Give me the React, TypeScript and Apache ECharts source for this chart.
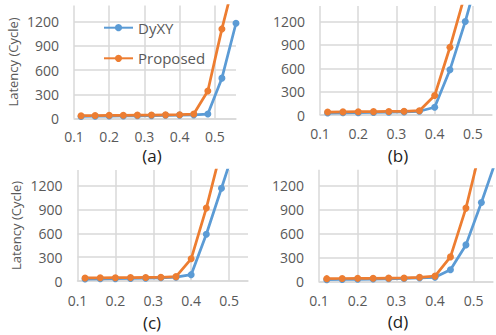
import React, { useEffect, useRef } from "react";
import * as echarts from "echarts";

const xValues = [0.12, 0.16, 0.2, 0.24, 0.28, 0.32, 0.36, 0.4, 0.44, 0.48, 0.52, 0.56];
const seriesNames = ["DyXY", "Proposed"];
const panelLabels = ["(a)", "(b)", "(c)", "(d)"];
const yTicks = [0, 300, 600, 900, 1200];

const dyxyA = [25, 28, 30, 32, 34, 36, 40, 42, 45, 55, 500, 1180];
const propA = [35, 37, 40, 40, 42, 43, 45, 47, 55, 340, 1110, 1800];
const dyxyB = [25, 28, 30, 33, 36, 40, 48, 100, 580, 1200, 1900];
const propB = [38, 40, 42, 43, 45, 47, 55, 250, 870, 1560];
const dyxyC = [25, 28, 30, 33, 36, 40, 48, 80, 590, 1170, 1760];
const propC = [38, 40, 42, 43, 45, 47, 55, 280, 920, 1670];
const dyxyD = [25, 28, 30, 33, 36, 40, 48, 55, 150, 460, 990, 1550];
const propD = [38, 40, 42, 43, 45, 47, 55, 70, 310, 920, 1710];

const xMax = [0.56, 0.55, 0.55, 0.55];

const FONT = "Open Sans";
const GRAY = "#595959";
const GRID = "#d9d9d9";
const BLUE = "#5B9BD5";
const ORANGE = "#ED7D31";

const toPairs = (ys: number[]) => ys.map((y, i) => [xValues[i], y]);

export default function App() {
  const ref = useRef<HTMLDivElement>(null);
  useEffect(() => {
    if (!ref.current) return;
    const chart = echarts.init(ref.current, undefined, { renderer: "svg" });
    const grids = [
      { left: 74, top: 5.5, width: 162, height: 113 },
      { left: 320, top: 6, width: 172, height: 109 },
      { left: 77.5, top: 170, width: 170.5, height: 111 },
      { left: 319, top: 169.7, width: 174, height: 112 },
    ];
    const data = [
      [dyxyA, propA],
      [dyxyB, propB],
      [dyxyC, propC],
      [dyxyD, propD],
    ];
    const xAxis = grids.map((_, i) => ({
      type: "value",
      gridIndex: i,
      min: 0.1,
      max: xMax[i],
      interval: 0.1,
      axisLine: { show: true, onZero: false, lineStyle: { color: GRID, width: 1.5 } },
      axisTick: { show: false },
      axisLabel: {
        showMaxLabel: false,
        margin: i < 2 ? 11 : 12,
        color: GRAY,
        fontFamily: FONT,
        fontSize: 14,
        lineHeight: 14,
        formatter: (v: number) => v.toFixed(1),
      },
      splitLine: { show: true, showMaxLine: false, lineStyle: { color: GRID, width: 1.5 } },
    }));
    const yAxis = grids.map((_, i) => ({
      type: "value",
      gridIndex: i,
      min: 0,
      max: 1400,
      interval: 300,
      name: i % 2 === 0 ? "Latency (Cycle)" : "",
      nameLocation: "middle",
      nameGap: 55,
      nameTextStyle: { color: GRAY, fontFamily: FONT, fontSize: 13 },
      axisLine: { show: false },
      axisTick: { show: false },
      axisLabel: {
        showMaxLabel: false,
        margin: 15,
        color: GRAY,
        fontFamily: FONT,
        fontSize: 14,
        formatter: (v: number) => (yTicks.includes(v) ? String(v) : ""),
      },
      splitLine: { show: true, showMaxLine: false, lineStyle: { color: GRID, width: 1.5 } },
    }));
    const series: any[] = [];
    data.forEach((pair, i) => {
      pair.forEach((ys, k) => {
        series.push({
          type: "line",
          name: seriesNames[k],
          xAxisIndex: i,
          yAxisIndex: i,
          data: toPairs(ys),
          symbol: "circle",
          symbolSize: 7,
          showAllSymbol: true,
          clip: true,
          lineStyle: { color: k === 0 ? BLUE : ORANGE, width: 2.75 },
          itemStyle: { color: k === 0 ? BLUE : ORANGE },
        });
      });
    });
    const legendCommon = {
      orient: "vertical",
      left: 98,
      itemWidth: 29,
      itemHeight: 9,
      selectedMode: false,
      textStyle: { color: GRAY, fontFamily: FONT, fontSize: 15, lineHeight: 16 },
    };
    const captionPos = [
      [152, 155.5],
      [398, 155],
      [152, 322],
      [398, 321],
    ];
    chart.setOption({
      animation: false,
      grid: grids,
      xAxis,
      yAxis,
      series,
      legend: [
        { ...legendCommon, top: 14.7, data: ["DyXY"] },
        { ...legendCommon, top: 45.3, data: ["Proposed"] },
      ],
      graphic: panelLabels.map((t, i) => ({
        type: "text",
        x: captionPos[i][0],
        y: captionPos[i][1],
        style: {
          text: t,
          fill: "#222",
          font: `17px "${FONT}"`,
          lineHeight: 17,
          textAlign: "center",
          textVerticalAlign: "middle",
        },
      })),
    });
    return () => chart.dispose();
  }, []);
  return (
    <div
      ref={ref}
      style={{ position: "absolute", left: 0, top: 0, width: 496, height: 335, background: "#fff" }}
    />
  );
}
